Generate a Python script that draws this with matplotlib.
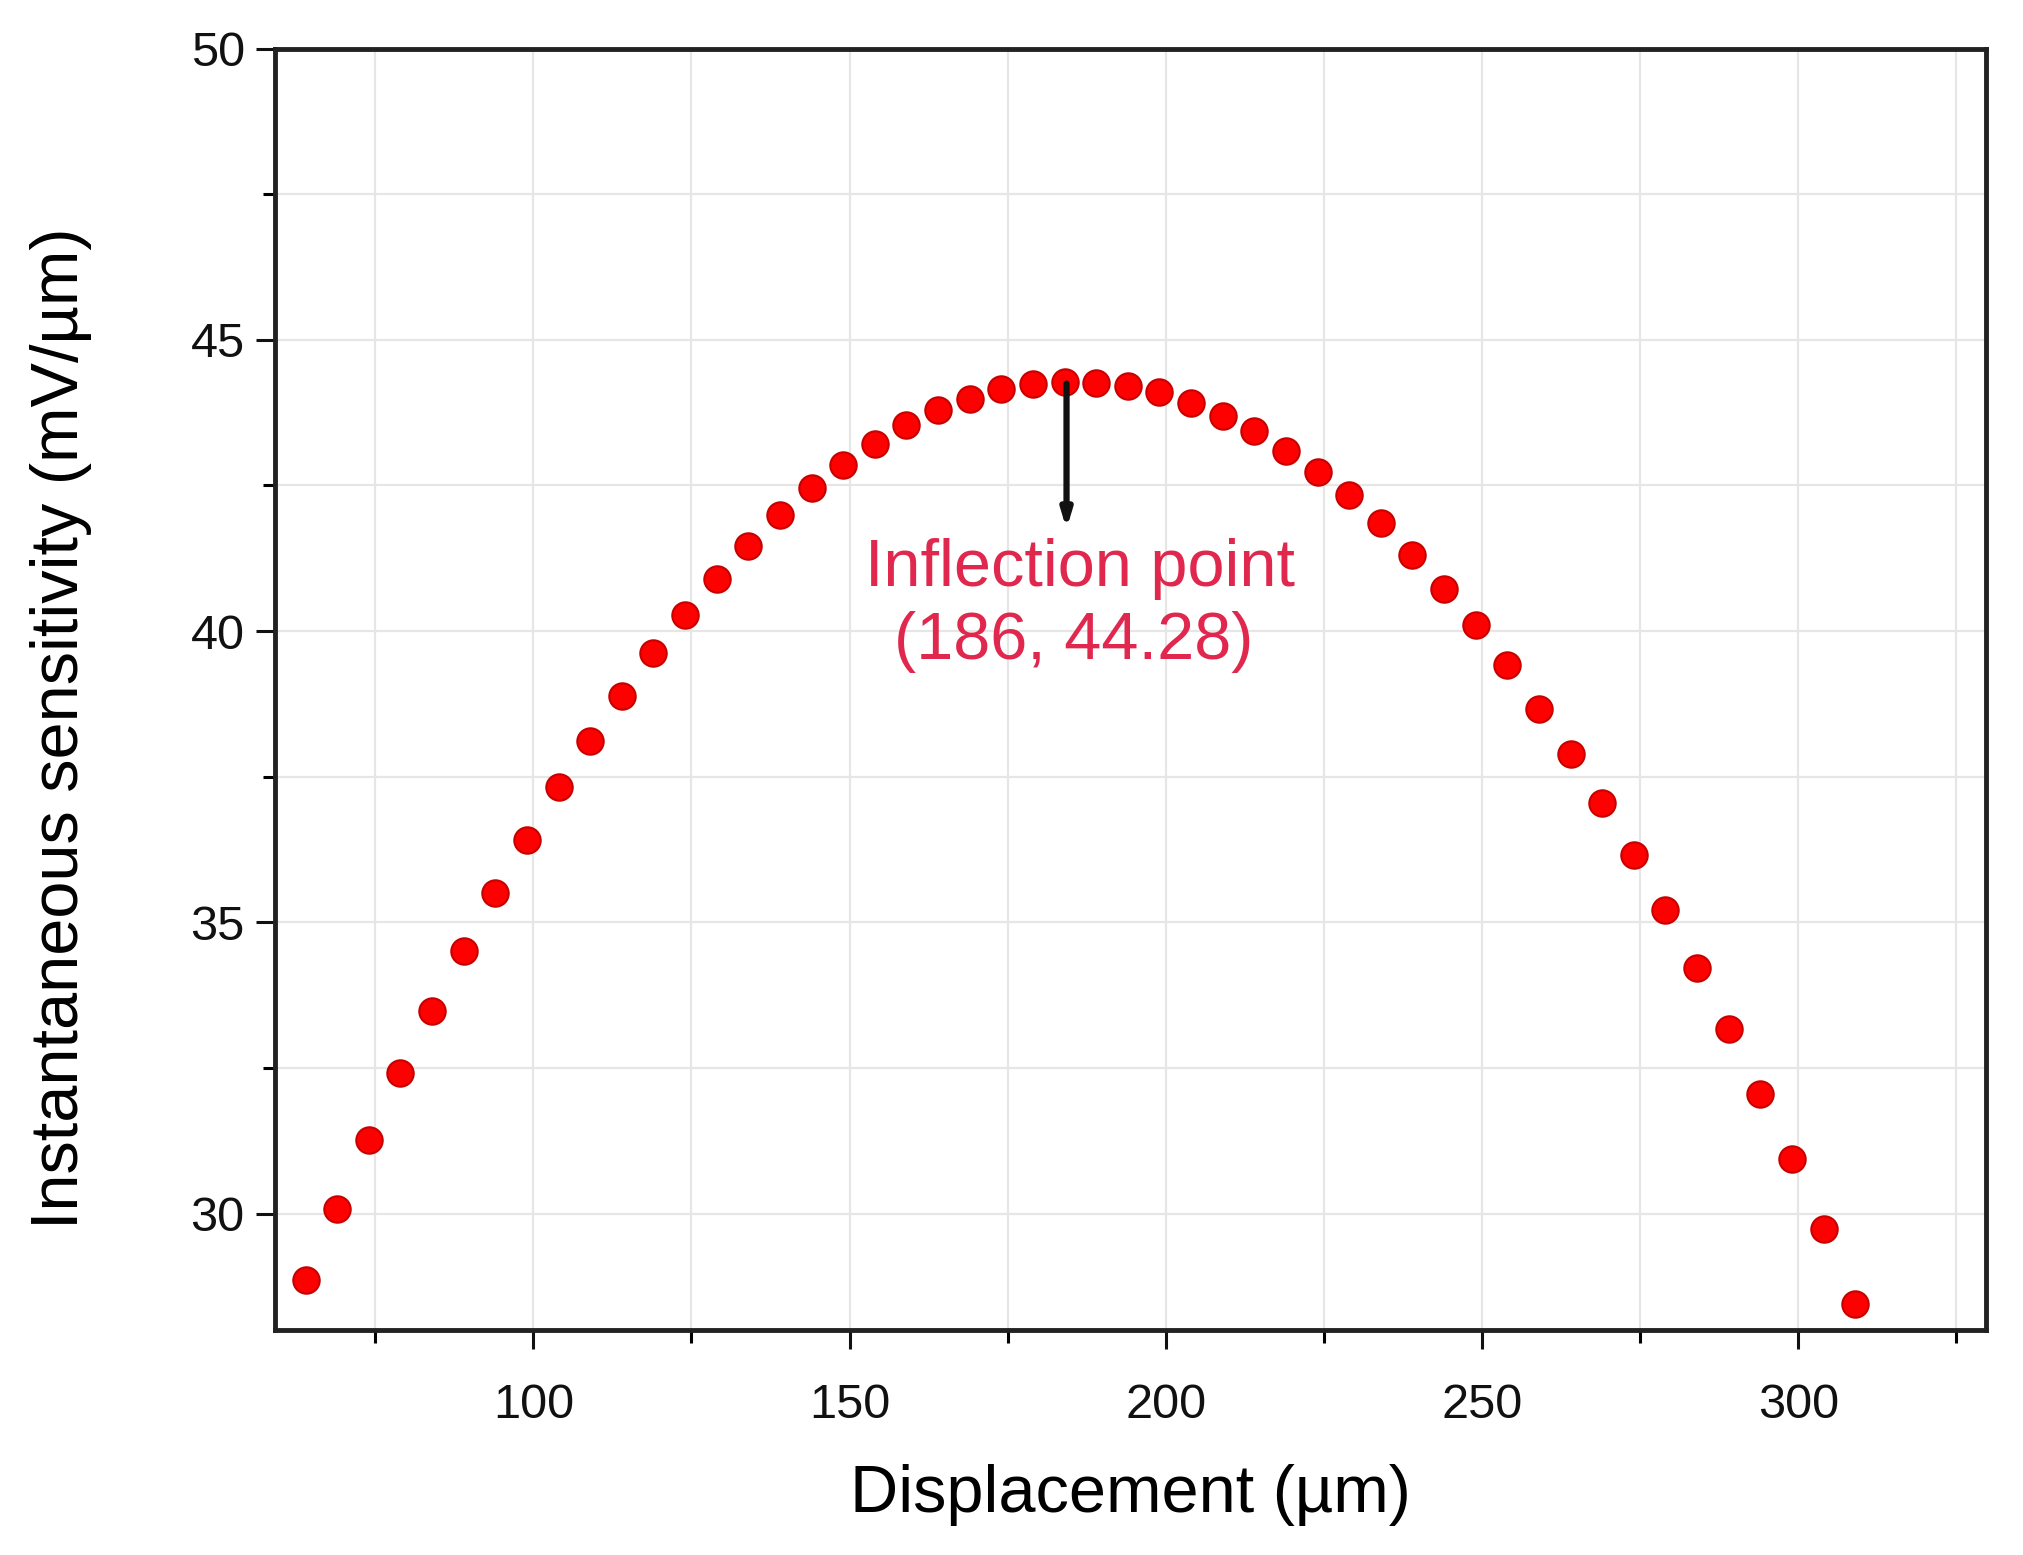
import numpy as np
import matplotlib as mpl

mpl.use('agg')

import matplotlib.pyplot as plt
from matplotlib.ticker import MultipleLocator

plt.rcParams['font.family'] = ['Liberation Sans', 'DejaVu Sans']

displacement = [64, 69, 74, 79, 84, 89, 94, 99, 104, 109,
                114, 119, 124, 129, 134, 139, 144, 149, 154, 159,
                164, 169, 174, 179, 184, 189, 194, 199, 204, 209,
                214, 219, 224, 229, 234, 239, 244, 249, 254, 259,
                264, 269, 274, 279, 284, 289, 294, 299, 304, 309]
sensitivity = [28.85, 30.07, 31.26, 32.42, 33.48, 34.50, 35.50, 36.41, 37.32, 38.12,
               38.89, 39.62, 40.27, 40.89, 41.46, 42.00, 42.46, 42.86, 43.22, 43.53,
               43.79, 43.99, 44.15, 44.24, 44.27, 44.26, 44.21, 44.10, 43.92, 43.70,
               43.44, 43.10, 42.73, 42.33, 41.86, 41.31, 40.73, 40.11, 39.42, 38.67,
               37.89, 37.05, 36.16, 35.21, 34.21, 33.17, 32.06, 30.93, 29.73, 28.45]

label_line1 = "Inflection point"
label_line2 = "(186, 44.28)"

fig = plt.figure(figsize=(20.24, 15.55), dpi=100)
ax = fig.add_axes([0.136, 0.1447, 0.845, 0.824])

ax.plot(displacement, sensitivity, 'o', color='#ff0000', markeredgecolor='#c80000',
        markeredgewidth=1.5, markersize=19, zorder=3)

# arrow from the peak down to the label
ax.annotate('', xy=(184.3, 41.75), xytext=(184.3, 44.25),
            arrowprops=dict(arrowstyle='-|>,head_length=1.0,head_width=0.3',
                            color='#111111', lw=4.5, shrinkA=0, shrinkB=0), zorder=4)
ax.text(186.5, 41.06, label_line1, color='#e0284e', fontsize=48,
        ha='center', va='center', zorder=4)
ax.text(185.5, 39.82, label_line2, color='#e0284e', fontsize=48,
        ha='center', va='center', zorder=4)

ax.set_xlim(59.2, 329.6)
ax.set_ylim(28.0, 50.0)
ax.xaxis.set_major_locator(MultipleLocator(50))
ax.xaxis.set_minor_locator(MultipleLocator(25))
ax.yaxis.set_major_locator(MultipleLocator(5))
ax.yaxis.set_minor_locator(MultipleLocator(2.5))

ax.grid(True, which='both', color='#e6e6e6', linewidth=1.6, zorder=0)
ax.set_axisbelow(True)

for sp in ax.spines.values():
    sp.set_linewidth(3.5)
    sp.set_color('#222222')

ax.tick_params(axis='both', which='major', direction='out', length=14, width=2.2,
               labelsize=35, colors='#111111')
ax.tick_params(axis='both', which='minor', direction='out', length=9, width=2.2)
ax.tick_params(axis='x', which='major', pad=24)
ax.tick_params(axis='y', which='major', pad=8)

ax.set_xlabel('Displacement (µm)', fontsize=48, labelpad=26)
ax.set_ylabel('Instantaneous sensitivity (mV/µm)', fontsize=48)
ax.yaxis.set_label_coords(-0.107, 0.47)

fig.savefig('out.png', dpi=100)
